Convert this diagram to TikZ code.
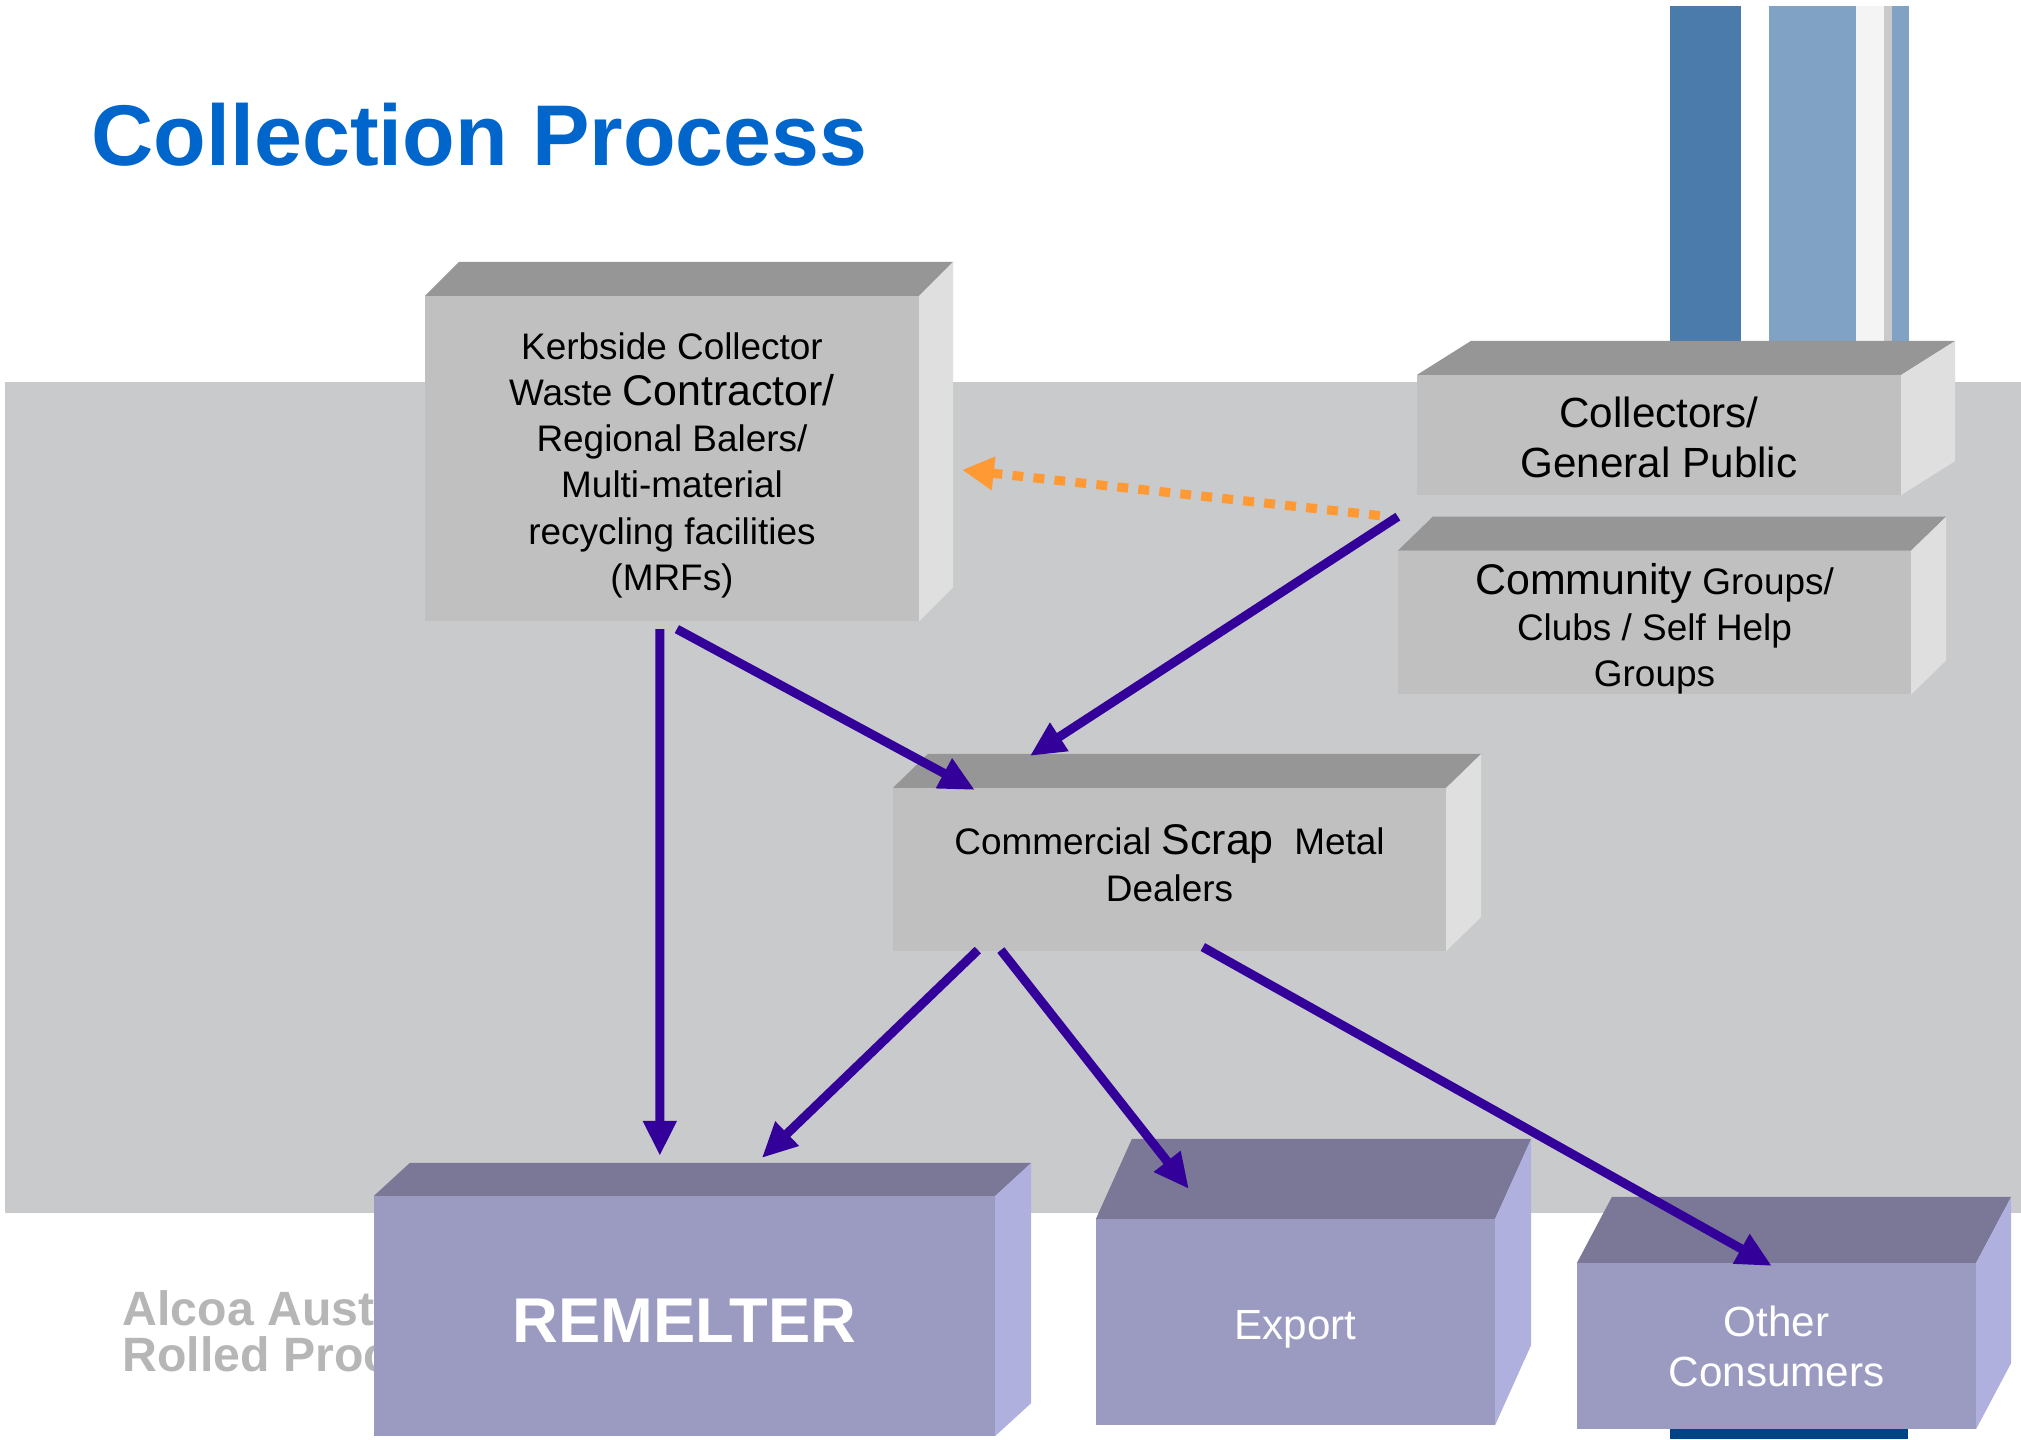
\documentclass[tikz,border=0pt]{standalone}
\usepackage{fontspec}
\setmainfont{Liberation Sans}
\usetikzlibrary{arrows.meta,calc}
\definecolor{band}{RGB}{201,202,204}
\definecolor{gfront}{RGB}{192,192,192}
\definecolor{gtop}{RGB}{150,150,150}
\definecolor{gside}{RGB}{223,223,223}
\definecolor{pfront}{RGB}{155,155,194}
\definecolor{ptop}{RGB}{122,120,150}
\definecolor{pside}{RGB}{176,176,222}
\definecolor{arrowc}{RGB}{51,0,153}
\definecolor{orangec}{RGB}{255,153,51}
\definecolor{titleblue}{RGB}{0,102,204}
\definecolor{barA}{RGB}{74,123,171}
\definecolor{barB}{RGB}{127,162,197}
\definecolor{barC}{RGB}{244,244,244}
\definecolor{barD}{RGB}{202,202,202}
\definecolor{barE}{RGB}{0,68,136}
\definecolor{alcoagray}{RGB}{182,182,182}
\tikzset{
  graybox/.style={fill=gfront, draw=none, inner sep=0pt, outer sep=0pt, align=center, text=black,
    font=\fontsize{10.5}{13.1}\selectfont},
  purplebox/.style={fill=pfront, draw=none, inner sep=0pt, outer sep=0pt, align=center, text=white,
    font=\fontsize{12}{14.2}\selectfont},
  flow/.style={draw=arrowc, line width=2.56pt, -{Triangle[length=10pt,width=9pt]}},
  hint/.style={draw=orangec, line width=2.6pt, dash pattern=on 3.1pt off 2.9pt,
    -{Triangle[length=9pt,width=9pt]}},
}
\newcommand\boxfaces[5]{%
  \fill[#4] (#1.north west) -- ++(#2,#3) -- ($(#1.north east)+(#2,#3)$) -- (#1.north east) -- cycle;
  \fill[#5] (#1.north east) -- ++(#2,#3) -- ($(#1.south east)+(#2,#3)$) -- (#1.south east) -- cycle;
}
\begin{document}
\begin{tikzpicture}[x=0.01cm,y=-0.01cm]
\useasboundingbox (0,0) rectangle (2021,1439);
\fill[white] (0,0) rectangle (2021,1439);
% background band
\fill[band] (5,382) rectangle (2021,1213);
% top right bars
\fill[barA] (1670,6) rectangle (1741,360);
\fill[barB] (1769,6) rectangle (1856,360);
\fill[barC] (1856,6) rectangle (1884,360);
\fill[barD] (1884,6) rectangle (1892,360);
\fill[barB] (1892,6) rectangle (1909,360);
% bottom bar
\fill[barE] (1670,1400) rectangle (1908,1439);
% title
\node[anchor=base west, text=titleblue, inner sep=0pt, font=\fontsize{24.5}{29}\selectfont\bfseries] (title) at (91,165) {Collection Process};
% watermark text
\node[anchor=base west, text=alcoagray, inner sep=0pt, font=\fontsize{13.7}{13.7}\selectfont\bfseries] (alcoa1) at (122,1325) {Alcoa Aust};
\node[anchor=base west, text=alcoagray, inner sep=0pt, font=\fontsize{13.7}{13.7}\selectfont\bfseries] (alcoa2) at (122,1371) {Rolled Proc};
% grey boxes
\node[graybox, minimum width=4.94cm, minimum height=3.25cm] (kerb) at (672,458.5)
  {\rule{0pt}{11.5pt}Kerbside Collector\\ Waste {\fontsize{12.2}{13.1}\selectfont Contractor/}\\ Regional Balers/\\ Multi-material\\ recycling facilities\\ (MRFs)};
\boxfaces{kerb}{34}{-34}{gtop}{gside}
\node[graybox, minimum width=4.84cm, minimum height=1.20cm, font=\fontsize{12}{14.2}\selectfont] (coll) at (1659,435)
  {\rule{0pt}{10pt}Collectors/\\ General Public};
\boxfaces{coll}{54}{-34}{gtop}{gside}
\node[graybox, minimum width=5.13cm, minimum height=1.41cm] (comm) at (1654.5,622.5)
  {\rule{0pt}{12.5pt}{\fontsize{12.2}{13.1}\selectfont Community} Groups/\\ Clubs / Self Help\\ Groups};
\boxfaces{comm}{35}{-34}{gtop}{gside}
\node[graybox, minimum width=5.53cm, minimum height=1.63cm] (dealer) at (1169.5,869.5)
  {Commercial {\fontsize{12.2}{13.1}\selectfont Scrap}~ Metal\\ Dealers\rule[-3.7pt]{0pt}{3.7pt}};
\boxfaces{dealer}{35}{-34}{gtop}{gside}
% purple boxes
\node[purplebox, minimum width=6.21cm, minimum height=2.40cm, font=\fontsize{18}{20}\selectfont\bfseries] (remelt) at (684.5,1316)
  {\rule{0pt}{15.1pt}REMELTER};
\boxfaces{remelt}{36}{-33}{ptop}{pside}
\node[purplebox, minimum width=3.99cm, minimum height=2.06cm] (export) at (1295.5,1322)
  {\rule{0pt}{12.4pt}Export};
\boxfaces{export}{36}{-80}{ptop}{pside}
\node[purplebox, minimum width=3.99cm, minimum height=1.66cm] (other) at (1776.5,1346)
  {Other\\ Consumers};
\boxfaces{other}{35}{-66}{ptop}{pside}
% connectors
\draw[hint] ($(comm.north west)+(-18,-35)$) -- ($(kerb.north east)+(43,174)$);
\draw[flow] ($(kerb.south west)+(235,8)$) -- ($(remelt.north west)+(286,-40)$);
\draw[flow] ($(kerb.south west)+(252,8)$) -- ($(dealer.north west)+(82,2)$);
\draw[flow] ($(comm.north west)+(0,-34)$) -- ($(dealer.north west)+(137,-32)$);
\draw[flow] ($(dealer.south west)+(85,-1)$) -- ($(remelt.north west)+(388,-38)$);
\draw[flow] ($(dealer.south west)+(108,-1)$) -- ($(export.north west)+(93,-30)$);
\draw[flow] ($(dealer.south west)+(310,-4)$) -- ($(other.north west)+(195,3)$);
\end{tikzpicture}
\end{document}
